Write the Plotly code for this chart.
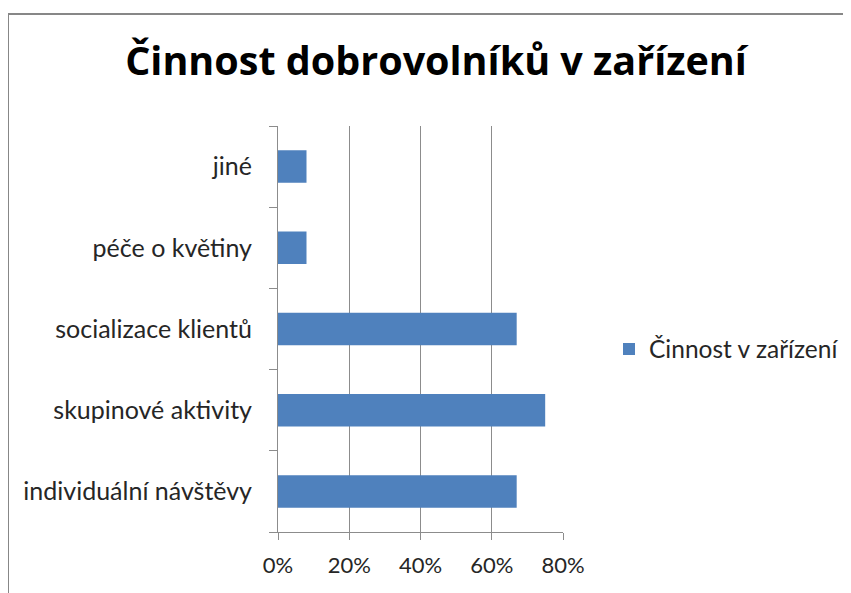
import plotly.graph_objects as go

categories = ["individuální návštěvy", "skupinové aktivity", "socializace klientů", "péče o květiny", "jiné"]
values = [0.67, 0.75, 0.67, 0.08, 0.08]
series_name = "Činnost v zařízení"
title_text = "Činnost dobrovolníků v zařízení"

OFF = 8  # page body margin
W, H = 851 - OFF, 593 - OFF
L, R, T, B = 278 - OFF, 563 - OFF, 126 - OFF, 532 - OFF

fig = go.Figure()
fig.add_trace(go.Bar(
    y=categories, x=values, orientation="h", name=series_name,
    marker=dict(color="#4F81BD", line=dict(color="#4F81BD", width=0)),
    showlegend=True,
))

fig.update_layout(
    width=W, height=H,
    margin=dict(l=L, r=W - R, t=T, b=H - B, pad=0, autoexpand=False),
    paper_bgcolor="white", plot_bgcolor="white",
    font=dict(family="Lato, 'Open Sans', sans-serif", color="#262626", size=24),
    bargap=0.6,
    title=dict(text=title_text, x=((124 + 748) / 2 - OFF) / W, xanchor="center",
               y=1 - (61 - OFF) / H, yanchor="middle",
               font=dict(size=39.5, color="black", family="'Open Sans', Lato, sans-serif", weight="bold")),
    legend=dict(xref="container", yref="container",
                x=(609 - OFF) / W, y=1 - (349 - OFF) / H, xanchor="left", yanchor="middle",
                font=dict(size=24.5, color="#262626"), itemwidth=30, bgcolor="rgba(0,0,0,0)"),
    xaxis=dict(range=[0, 0.8], dtick=0.2, tickformat=".0%", showgrid=True, gridcolor="#8C8C8C",
               gridwidth=1, showline=True, linecolor="#8C8C8C", linewidth=1, ticks="outside",
               ticklen=7, tickcolor="#8C8C8C", zeroline=False, fixedrange=True,
               tickfont=dict(size=22), ticklabelstandoff=7),
    yaxis=dict(showline=True, linecolor="#8C8C8C", linewidth=1, ticks="outside", ticklen=8,
               tickcolor="#8C8C8C", tickson="boundaries", showgrid=False,
               tickfont=dict(size=25), ticklabelstandoff=20),
    shapes=[dict(type="rect", xref="paper", yref="paper",
                 x0=(8 - OFF - L) / (R - L), x1=(900 - L) / (R - L),
                 y0=(B - 640) / (B - T), y1=(B - (14 - OFF)) / (B - T),
                 line=dict(color="#878787", width=2), fillcolor="rgba(0,0,0,0)", layer="below")],
)

fig.write_html("out.html")
